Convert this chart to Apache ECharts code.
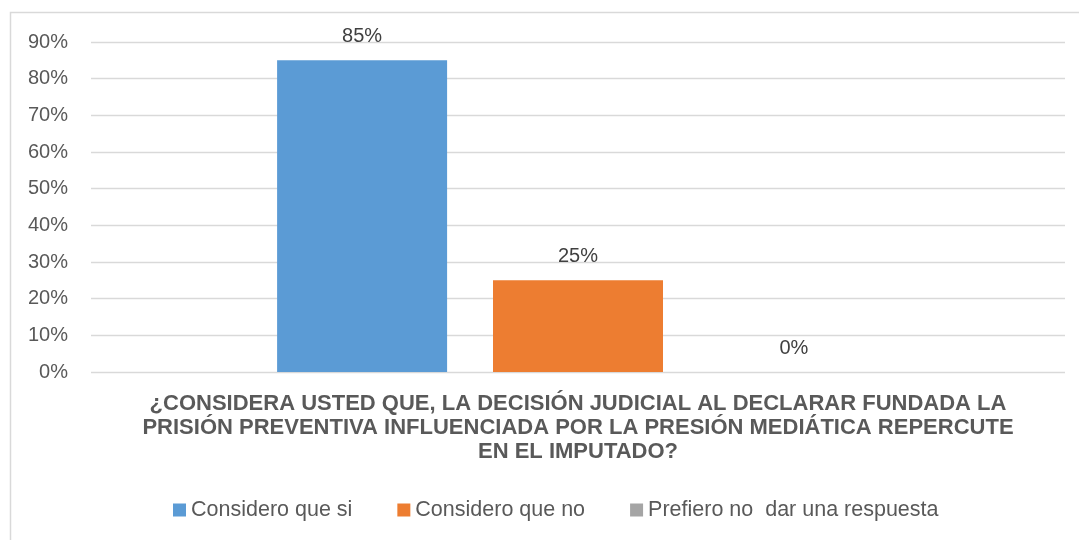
<!DOCTYPE html>
<html>
<head>
<meta charset="utf-8">
<script src="https://cdn.jsdelivr.net/npm/echarts@6/dist/echarts.min.js"></script>
<style>
  html, body { margin: 0; padding: 0; background: #fff; }
  #chart { width: 1079px; height: 540px; }
</style>
</head>
<body>
<div id="chart"></div>
<script>
// datos del gráfico
const categories = ["¿CONSIDERA USTED QUE, LA DECISIÓN JUDICIAL AL DECLARAR FUNDADA LA\nPRISIÓN PREVENTIVA INFLUENCIADA POR LA PRESIÓN MEDIÁTICA REPERCUTE\nEN EL IMPUTADO?"];
const seriesNames = ["Considero que si", "Considero que no", "Prefiero no  dar una respuesta"];
const seriesValues = [[0.85], [0.25], [0]];
const seriesColors = ["#5b9bd5", "#ed7d31", "#a5a5a5"];
const yTicks = [0, 0.1, 0.2, 0.3, 0.4, 0.5, 0.6, 0.7, 0.8, 0.9];

const chart = echarts.init(document.getElementById("chart"));

const pct = (v) => Math.round(v * 100) + "%";

const series = seriesNames.map((name, i) => ({
  name: name,
  type: "bar",
  data: seriesValues[i],
  barWidth: 170,
  barGap: "27%",
  itemStyle: { color: seriesColors[i] },
  label: {
    show: true,
    position: "top",
    distance: 14,
    formatter: (p) => pct(p.value),
    color: "#404040",
    fontSize: 20,
    fontFamily: "Liberation Sans"
  }
}));

chart.setOption({
  animation: false,
  graphic: [{
    type: "rect",
    shape: { x: 10.5, y: 12.5, width: 1100, height: 600 },
    style: { fill: "none", stroke: "#d9d9d9", lineWidth: 1.5 }
  }],
  grid: { left: 91, right: 14, top: 42, bottom: 168 },
  legend: {
    top: 494,
    left: 168,
    itemWidth: 13,
    itemHeight: 13,
    itemGap: 45,
    icon: "rect",
    textStyle: { color: "#595959", fontSize: 21.5, fontFamily: "Liberation Sans" },
    data: seriesNames
  },
  xAxis: {
    type: "category",
    data: categories,
    axisLine: { show: false },
    axisTick: { show: false },
    axisLabel: {
      interval: 0,
      margin: 20,
      fontSize: 22,
      lineHeight: 24,
      fontWeight: "bold",
      color: "#595959",
      fontFamily: "Liberation Sans"
    }
  },
  yAxis: {
    type: "value",
    min: yTicks[0],
    max: yTicks[yTicks.length - 1],
    interval: 0.1,
    axisLine: { show: false },
    axisTick: { show: false },
    splitLine: { lineStyle: { color: "#d9d9d9", width: 1.3 } },
    axisLabel: {
      margin: 23,
      formatter: (v) => pct(v),
      color: "#595959",
      fontSize: 20,
      fontFamily: "Liberation Sans"
    }
  },
  series: series
});
</script>
</body>
</html>
